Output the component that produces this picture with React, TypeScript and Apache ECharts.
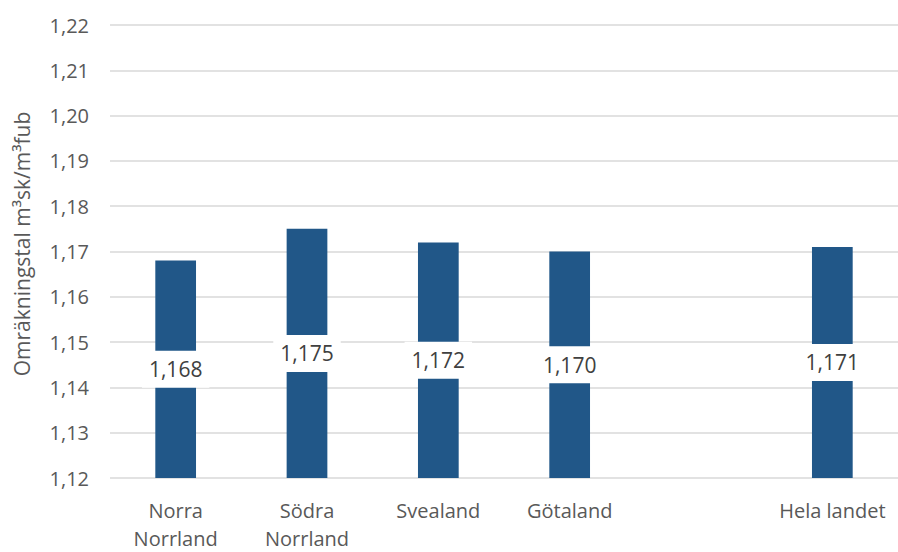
import React, { useEffect, useRef } from "react";
import * as echarts from "echarts";

// Conversion factor m³sk/m³fub per region
const categories = ["Norra\nNorrland", "Södra\nNorrland", "Svealand", "Götaland", "", "Hela landet"];
const factors: (number | string)[] = [1.168, 1.175, 1.172, 1.17, "-", 1.171];
const yMin = 1.12;
const yMax = 1.22;
const yStep = 0.01;
const axisTitle = "Omräkningstal m³sk/m³fub";

const FONT = "'Open Sans', 'Noto Sans', sans-serif";
const fmt = (v: number, d: number) => v.toFixed(d).replace(".", ",");

export default function App() {
  const ref = useRef<HTMLDivElement>(null);

  useEffect(() => {
    if (!ref.current) return;
    const chart = echarts.init(ref.current, undefined, { renderer: "svg" });
    chart.setOption({
      animation: false,
      backgroundColor: "#ffffff",
      grid: { left: 110, right: -4, top: 25, bottom: 69, containLabel: false },
      graphic: [
        {
          type: "text",
          x: 22,
          y: 244,
          rotation: Math.PI / 2,
          style: {
            text: axisTitle,
            fill: "#595959",
            font: `21px ${FONT}`,
            align: "center",
            verticalAlign: "middle",
          },
        },
      ],
      xAxis: {
        type: "category",
        data: categories,
        axisLine: { show: false },
        axisTick: { show: false },
        axisLabel: {
          color: "#595959",
          fontFamily: FONT,
          fontSize: 20,
          lineHeight: 28,
          margin: 18,
          verticalAlign: "top",
          interval: 0,
        },
      },
      yAxis: {
        type: "value",
        min: yMin,
        max: yMax,
        interval: yStep,
        axisLine: { show: false },
        axisTick: { show: false },
        axisLabel: {
          color: "#595959",
          fontFamily: FONT,
          fontSize: 20,
          margin: 21,
          formatter: (v: number) => fmt(v, 2),
        },
        splitLine: { lineStyle: { color: "#d9d9d9", width: 1.5 } },
      },
      series: [
        {
          type: "bar",
          data: factors,
          barWidth: "31%",
          itemStyle: { color: "#215788" },
          label: {
            show: true,
            position: "inside",
            color: "#404040",
            fontFamily: FONT,
            fontSize: 21,
            backgroundColor: "#ffffff",
            padding: [9, 7, 7, 7],
            formatter: (p: any) => fmt(p.value as number, 3),
          },
        },
      ],
    });
    return () => chart.dispose();
  }, []);

  return (
    <div
      ref={ref}
      style={{ position: "fixed", left: 0, top: 0, width: 898, height: 552 }}
    />
  );
}
